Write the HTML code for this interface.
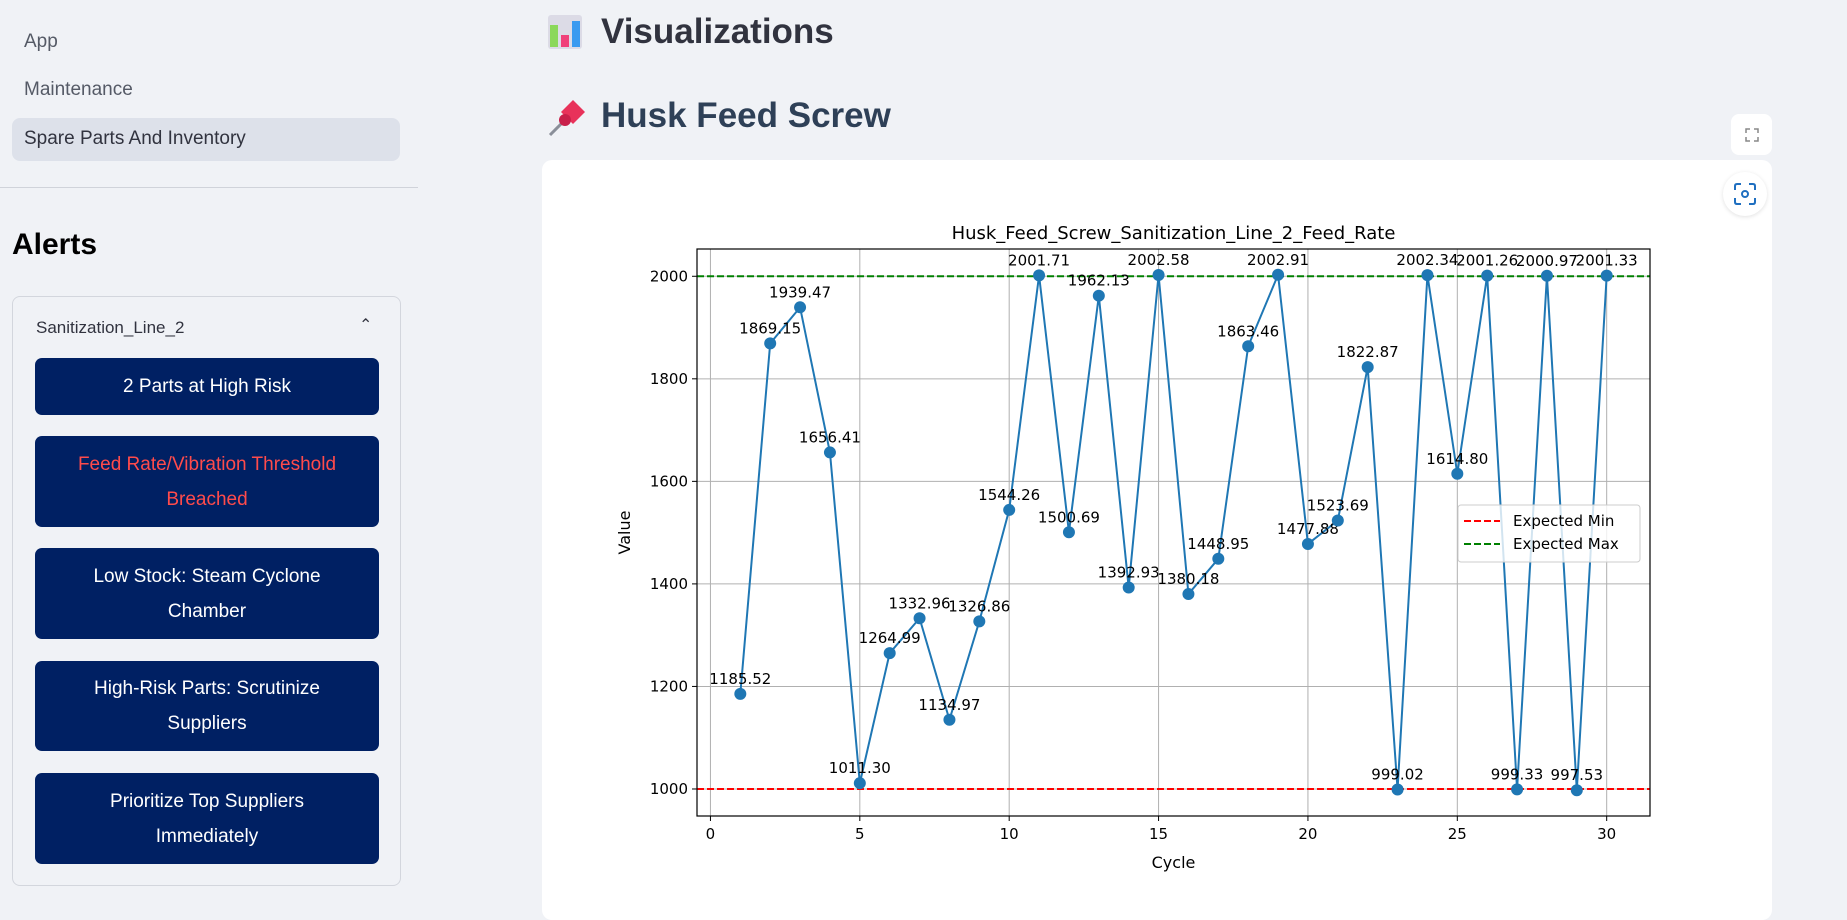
<!DOCTYPE html>
<html><head><meta charset="utf-8">
<style>
*{box-sizing:border-box;margin:0;padding:0}
body{width:1847px;height:897px;overflow:hidden;background:#f0f2f6;font-family:"Liberation Sans",sans-serif;position:relative}
.abs{position:absolute}
.nav{left:24px;font-size:19px;color:#555a66}
.btn{position:absolute;left:35px;width:344px;background:#002063;border-radius:7px;color:#fff;font-size:19px;line-height:35px;text-align:center;display:flex;align-items:center;justify-content:center;padding:0 20px}
svg text{font-family:"DejaVu Sans",sans-serif}
</style></head><body>
<div class="abs nav" style="top:31px">App</div>
<div class="abs nav" style="top:79px">Maintenance</div>
<div class="abs" style="left:12px;top:118px;width:388px;height:43px;background:#dde1ea;border-radius:8px;font-size:19px;color:#31333f;padding:10px 12px">Spare Parts And Inventory</div>
<div class="abs" style="left:0;top:187px;width:418px;height:1px;background:#d0d3da"></div>
<div class="abs" style="left:12px;top:228px;font-size:30px;font-weight:bold;color:#000">Alerts</div>
<div class="abs" style="left:12px;top:296px;width:389px;height:590px;border:1px solid #d3d6dd;border-radius:8px">
  <div class="abs" style="left:23px;top:21px;font-size:17px;color:#31333f">Sanitization_Line_2</div>
  <div class="abs" style="left:346px;top:18px;font-size:16px;color:#31333f">&#8963;</div>
</div>
<div class="btn" style="top:358px;height:57px">2 Parts at High Risk</div>
<div class="btn" style="top:436px;height:91px;color:#ff4b4b">Feed Rate/Vibration Threshold Breached</div>
<div class="btn" style="top:548px;height:91px">Low Stock: Steam Cyclone Chamber</div>
<div class="btn" style="top:661px;height:90px">High-Risk Parts: Scrutinize Suppliers</div>
<div class="btn" style="top:773px;height:91px;padding:0 48px">Prioritize Top Suppliers Immediately</div>

<div class="abs" style="left:547px;top:13px;width:38px;height:38px">
<svg width="38" height="38"><rect x="1" y="2" width="34" height="34" rx="3" fill="#dcdbe6"/><rect x="3" y="12" width="8" height="22" fill="#8bd85a"/><rect x="14" y="22" width="8" height="12" fill="#f0407a"/><rect x="25" y="8" width="8" height="26" fill="#3a9af0"/></svg></div>
<div class="abs" style="left:601px;top:12px;font-size:35px;font-weight:600;color:#31333f">Visualizations</div>
<div class="abs" style="left:547px;top:98px;width:40px;height:40px">
<svg width="40" height="40"><line x1="3" y1="37" x2="18" y2="22" stroke="#8a8f99" stroke-width="3"/><path d="M14 14 L26 2 L38 14 L26 26 Z" fill="#e8325a"/><circle cx="18" cy="22" r="6" fill="#c8204a"/></svg></div>
<div class="abs" style="left:601px;top:96px;font-size:35px;font-weight:600;color:#2e4057">Husk Feed Screw</div>

<div class="abs" style="left:1731px;top:114px;width:41px;height:41px;background:#fff;border-radius:8px;display:flex;align-items:center;justify-content:center">
<svg width="14" height="14" fill="none" stroke="#888" stroke-width="1.5"><path d="M1 5V1H5M9 1H13V5M13 9V13H9M5 13H1V9"/></svg></div>
<div class="abs" style="left:542px;top:160px;width:1230px;height:760px;background:#fff;border-radius:10px"></div>
<div class="abs" style="left:1723px;top:172px;width:44px;height:44px;background:#fff;border-radius:50%;box-shadow:0 1px 4px rgba(0,0,0,.12);display:flex;align-items:center;justify-content:center">
<svg width="22" height="22" fill="none" stroke="#1f6fc0" stroke-width="2"><path d="M1 7V3Q1 1 3 1H7M15 1H19Q21 1 21 3V7M21 15V19Q21 21 19 21H15M7 21H3Q1 21 1 19V15"/><circle cx="11" cy="11" r="3"/></svg></div>

<svg class="abs" style="left:0;top:0" width="1847" height="897" id="chart">
<g id="g"></g>
</svg>
<script>
const cycles=[1,2,3,4,5,6,7,8,9,10,11,12,13,14,15,16,17,18,19,20,21,22,23,24,25,26,27,28,29,30];
const values=[1185.52,1869.15,1939.47,1656.41,1011.30,1264.99,1332.96,1134.97,1326.86,1544.26,2001.71,1500.69,1962.13,1392.93,2002.58,1380.18,1448.95,1863.46,2002.91,1477.88,1523.69,1822.87,999.02,2002.34,1614.80,2001.26,999.33,2000.97,997.53,2001.33];
const xTicks=[0,5,10,15,20,25,30];
const yTicks=[1000,1200,1400,1600,1800,2000];
const expectedMin=1000, expectedMax=2000;
const L=697,R=1650,T=249,B=816;
const xmin=-0.45,xmax=31.45,ymin=947.3,ymax=2053.2;
const X=v=>L+(v-xmin)/(xmax-xmin)*(R-L);
const Y=v=>B-(v-ymin)/(ymax-ymin)*(B-T);
const g=document.getElementById('g');
const NS='http://www.w3.org/2000/svg';
function mk(tag,attrs,text){const e=document.createElementNS(NS,tag);for(const k in attrs)e.setAttribute(k,attrs[k]);if(text!==undefined)e.textContent=text;g.appendChild(e);return e;}
xTicks.forEach(t=>{
 const l=mk('line',{x1:X(t),x2:X(t),y1:T,y2:B,stroke:'#b0b0b0','stroke-width':1});
 
 
 mk('line',{x1:X(t),x2:X(t),y1:B,y2:B+5,stroke:'#000'});
 const tx=mk('text',{x:X(t),y:B+23,'text-anchor':'middle','font-size':15,fill:'#000'},t);
 
 
});
yTicks.forEach(t=>{
 const l=mk('line',{x1:L,x2:R,y1:Y(t),y2:Y(t),stroke:'#b0b0b0','stroke-width':1});
 
 
 mk('line',{x1:L-5,x2:L,y1:Y(t),y2:Y(t),stroke:'#000'});
 const tx=mk('text',{x:L-9,y:Y(t)+5,'text-anchor':'end','font-size':15,fill:'#000'},t);
 
 
});
const lmin=mk('line',{x1:L,x2:R,y1:Y(expectedMin),y2:Y(expectedMin),stroke:'#ff0000','stroke-width':2,'stroke-dasharray':'7,3'});


const lmax=mk('line',{x1:L,x2:R,y1:Y(expectedMax),y2:Y(expectedMax),stroke:'#008000','stroke-width':2,'stroke-dasharray':'7,3'});


const pl=mk('polyline',{points:cycles.map((c,i)=>X(c)+','+Y(values[i])).join(' '),fill:'none',stroke:'#1f77b4','stroke-width':2});


cycles.forEach((c,i)=>{
 const p=mk('circle',{cx:X(c),cy:Y(values[i]),r:6,fill:'#1f77b4'});
 
 
 const t=mk('text',{x:X(c),y:Y(values[i])-10,'text-anchor':'middle','font-size':15,fill:'#000'},values[i].toFixed(2));
 
 
});
const fr=mk('rect',{x:L,y:T,width:R-L,height:B-T,fill:'none',stroke:'#000','stroke-width':1.2});


const ti=mk('text',{x:(L+R)/2,y:T-10,'text-anchor':'middle','font-size':18,fill:'#000'},'Husk_Feed_Screw_Sanitization_Line_2_Feed_Rate');


const xl=mk('text',{x:(L+R)/2,y:868,'text-anchor':'middle','font-size':16,fill:'#000'},'Cycle');


const yl=mk('text',{x:630,y:(T+B)/2,'text-anchor':'middle','font-size':16,fill:'#000',transform:'rotate(-90 630 '+((T+B)/2)+')'},'Value');


const lg=mk('rect',{x:1458,y:505,width:182,height:57,rx:3,fill:'rgba(255,255,255,0.8)',stroke:'#ccc'});


[['Expected Min','#ff0000',521],['Expected Max','#008000',544]].forEach(([n,c,y])=>{
 mk('line',{x1:1464,x2:1500,y1:y,y2:y,stroke:c,'stroke-width':2,'stroke-dasharray':'7,3'});
 const t=mk('text',{x:1513,y:y+5,'font-size':15,fill:'#000'},n);
 
 
});
</script>
</body></html>
